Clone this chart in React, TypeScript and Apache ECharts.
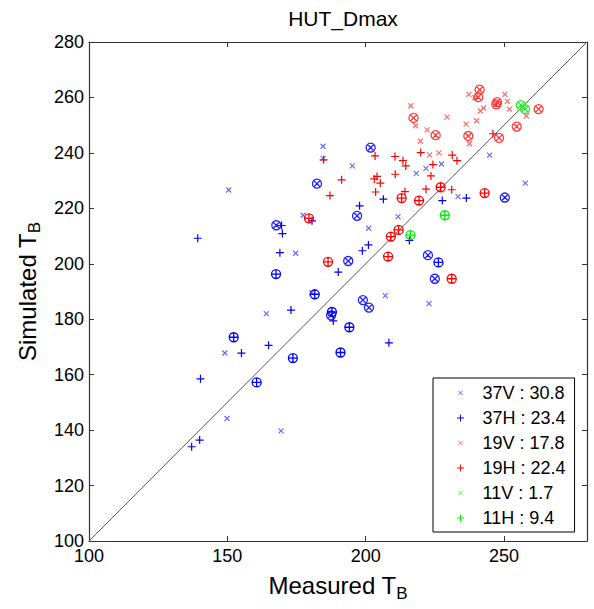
import React, { useEffect, useRef } from 'react';
import * as echarts from 'echarts';

// ---- data (Measured, Simulated) ----
const names = ['37V', '37H', '19V', '19H', '11V', '11H'];
const legendValues = [30.8, 23.4, 17.8, 22.4, 1.7, 9.4];
const colors = ['#6a6aff', '#0000ff', '#ff6a6a', '#ff0000', '#55ee55', '#00ee00'];
const circledColors = ['#2020ff', '#0000ff', '#ff3a3a', '#ff0000', '#22ee22', '#00ee00'];

const v37 = [
  [184.6, 242.4], [184.6, 238.0], [195.2, 235.3], [227.4, 236.0], [221.8, 234.4], [218.3, 232.6],
  [244.8, 239.2], [257.7, 229.1], [233.4, 224.2], [177.4, 217.5], [211.7, 217.0], [201.1, 212.8],
  [174.7, 203.8], [180.5, 189.6], [207.1, 188.5], [222.9, 185.6], [150.5, 226.6], [164.1, 182.0],
  [149.1, 167.8], [149.9, 144.2], [169.4, 139.7],
];
const v37Circled = [
  [201.8, 241.9], [182.4, 228.9], [250.3, 223.9], [196.9, 217.3], [193.7, 201.0], [222.5, 203.1],
  [225.0, 194.6], [199.0, 186.9], [201.2, 184.2], [187.5, 181.4], [167.7, 213.9],
];
const h37 = [
  [206.4, 223.3], [197.8, 220.9], [227.7, 222.8], [236.4, 223.7], [180.6, 215.5], [215.8, 208.4],
  [201.0, 206.8], [198.8, 204.7], [190.1, 197.0], [173.0, 183.3], [188.3, 179.4], [208.4, 171.5],
  [169.6, 213.8], [169.9, 210.9], [139.3, 209.2], [169.0, 204.0], [155.1, 167.8], [164.9, 170.6],
  [140.3, 158.5], [140.0, 136.4], [137.1, 134.0],
];
const h37Circled = [
  [226.3, 200.5], [181.6, 189.0], [187.8, 182.6], [194.1, 177.1], [190.9, 168.0], [167.6, 196.3],
  [152.3, 173.5], [173.7, 166.0], [160.6, 157.2],
];
const v19 = [
  [216.3, 257.0], [218.0, 249.8], [229.4, 252.9], [222.2, 248.3], [219.8, 244.2], [223.1, 239.3],
  [226.5, 240.0], [237.3, 261.1], [239.5, 259.9], [250.3, 261.1], [251.2, 258.6], [252.0, 255.8],
  [242.6, 256.2], [241.5, 255.1], [236.3, 250.4], [240.1, 251.6], [258.1, 253.3], [237.5, 243.3],
];
const v19Circled = [
  [217.3, 252.6], [225.3, 246.4], [241.2, 262.8], [240.7, 260.1], [247.5, 258.3], [247.2, 257.5],
  [262.5, 255.8], [254.6, 249.5], [237.1, 246.1], [248.2, 245.4],
];
const h19 = [
  [203.4, 238.9], [210.6, 238.7], [184.8, 237.5], [213.5, 237.2], [214.5, 235.3], [219.9, 240.1],
  [224.3, 235.8], [210.7, 232.3], [223.6, 231.7], [191.3, 230.3], [203.1, 230.6], [204.1, 231.5],
  [205.3, 229.1], [203.6, 225.9], [214.2, 226.0], [187.1, 224.6], [221.8, 226.9], [246.0, 246.9],
  [231.3, 239.2], [233.0, 237.2], [231.1, 226.7],
];
const h19Circled = [
  [227.1, 227.6], [213.0, 223.7], [219.3, 222.8], [243.0, 225.5], [179.5, 216.4], [211.9, 212.2],
  [209.1, 209.8], [208.1, 202.6], [186.4, 200.7], [231.1, 194.6],
];
const v11: number[][] = [];
const v11Circled = [[256.1, 257.2], [257.6, 255.8]];
const h11: number[][] = [];
const h11Circled = [[228.6, 217.5], [216.2, 210.3]];

const plainSets = [v37, h37, v19, h19, v11, h11];
const circledSets = [v37Circled, h37Circled, v19Circled, h19Circled, v11Circled, h11Circled];

const xTicks = { min: 100, max: 280, interval: 50 };
const yTicks = { min: 100, max: 280, interval: 20 };

// ---- symbols ----
const X_PATH = 'path://M0,0L10,10M10,0L0,10';
const PLUS_PATH = 'path://M5,0L5,10M0,5L10,5';
const OX_PATH = 'path://M10,5A5,5,0,1,1,0,5A5,5,0,1,1,10,5ZM1.6,1.6L8.4,8.4M8.4,1.6L1.6,8.4';
const OP_PATH = 'path://M10,5A5,5,0,1,1,0,5A5,5,0,1,1,10,5ZM5,0L5,10M0,5L10,5';
const LEG_X = 'path://M0,0M34,10M14.8,2.8L19.2,7.2M19.2,2.8L14.8,7.2';
const LEG_P = 'path://M0,0M34,10M17,1.5L17,8.5M13.5,5L20.5,5';

const FONT = 'Liberation Sans, Arial, Helvetica, sans-serif';

export default function App() {
  const ref = useRef<HTMLDivElement>(null);
  useEffect(() => {
    if (!ref.current) return;
    const chart = echarts.init(ref.current, null, { renderer: 'svg' });

    const scatterSeries = names.map((name, i) => {
      const isV = name.endsWith('V');
      const data = [
        ...plainSets[i].map((p) => ({ value: p })),
        ...circledSets[i].map((p) => ({
          value: p,
          symbol: isV ? OX_PATH : OP_PATH,
          symbolSize: 9,
          itemStyle: { color: 'transparent', borderColor: circledColors[i], borderWidth: 1.3 },
        })),
      ];
      return {
        type: 'scatter',
        name,
        data,
        symbol: isV ? X_PATH : PLUS_PATH,
        symbolSize: isV ? 5 : 8,
        itemStyle: { color: 'transparent', borderColor: colors[i], borderWidth: 1.2, opacity: 1 },
        emphasis: { disabled: true },
        z: 3,
      };
    });

    const axisCommon = {
      axisLine: { show: true, onZero: false, lineStyle: { color: '#333', width: 1.2 } },
      axisTick: { show: true, inside: true, length: 5, lineStyle: { color: '#333' } },
      splitLine: { show: false },
    };

    chart.setOption({
      animation: false,
      textStyle: { fontFamily: FONT },
      title: {
        text: 'HUT_Dmax',
        left: 338,
        textAlign: 'center',
        top: 3,
        textStyle: { fontFamily: FONT, fontSize: 21, fontWeight: 'normal', color: '#000' },
      },
      grid: { left: 89, right: 7, top: 42, bottom: 68, containLabel: false },
      legend: {
        show: true,
        orient: 'vertical',
        left: 433,
        top: 378,
        padding: [5, 9, 4, 10],
        itemGap: 5,
        itemWidth: 34,
        itemHeight: 10,
        selectedMode: false,
        backgroundColor: '#fff',
        borderColor: '#000',
        borderWidth: 1,
        itemStyle: { borderWidth: 1 },
        textStyle: { fontFamily: FONT, fontSize: 18, color: '#000', lineHeight: 20 },
        formatter: (n: string) => `${n} : ${legendValues[names.indexOf(n)]}`,
        data: names.map((n) => ({ name: n, icon: n.endsWith('V') ? LEG_X : LEG_P })),
        z: 10,
      },
      xAxis: [
        {
          type: 'value',
          ...xTicks,
          position: 'bottom',
          ...axisCommon,
          axisLabel: { show: true, showMaxLabel: false, margin: 6, fontSize: 18, color: '#000', fontFamily: FONT },
          name: 'Measured T{sub|B}',
          nameLocation: 'middle',
          nameGap: 25,
          nameTextStyle: {
            fontFamily: FONT, fontSize: 24, color: '#000', lineHeight: 32, verticalAlign: 'middle',
            rich: { sub: { fontFamily: FONT, fontSize: 17, lineHeight: 17, verticalAlign: 'bottom', color: '#000' } },
          },
        },
        {
          type: 'value',
          ...xTicks,
          position: 'top',
          ...axisCommon,
          axisLabel: { show: false },
        },
      ],
      yAxis: [
        {
          type: 'value',
          ...yTicks,
          position: 'left',
          ...axisCommon,
          axisLabel: { show: true, margin: 5, fontSize: 18, color: '#000', fontFamily: FONT },
          name: 'Simulated T{sub|B}',
          nameLocation: 'middle',
          nameGap: 62,
          nameTextStyle: {
            fontFamily: FONT, fontSize: 24, color: '#000', lineHeight: 32, verticalAlign: 'middle',
            rich: { sub: { fontFamily: FONT, fontSize: 17, lineHeight: 17, verticalAlign: 'bottom', color: '#000' } },
          },
        },
        {
          type: 'value',
          ...yTicks,
          position: 'right',
          ...axisCommon,
          axisLabel: { show: false },
        },
      ],
      series: [
        {
          type: 'line',
          name: 'one-to-one',
          data: [[xTicks.min, yTicks.min], [xTicks.max, yTicks.max]],
          showSymbol: false,
          symbol: 'none',
          silent: true,
          lineStyle: { color: '#555', width: 1 },
          z: 1,
        },
        ...scatterSeries,
      ],
    });
    return () => chart.dispose();
  }, []);
  return <div ref={ref} style={{ position: 'fixed', left: 0, top: 0, width: 594, height: 609, background: '#fff' }} />;
}
